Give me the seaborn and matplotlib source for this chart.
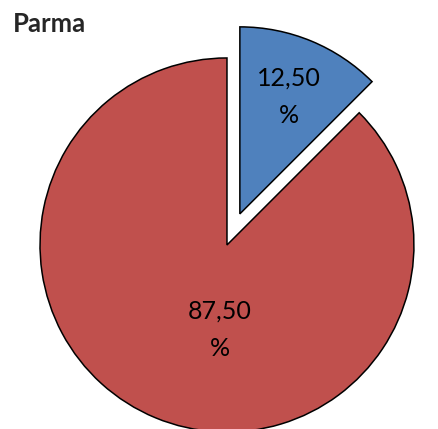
import matplotlib
matplotlib.use("Agg")
import matplotlib.pyplot as plt
import seaborn as sns

# data
categories = ["Sì", "No"]
shares = [12.5, 87.5]
colors = ["#4F81BD", "#C0504D"]
explode = [0.18, 0.0]
title = "Parma"

sns.set_theme(style="white")
plt.rcParams["font.family"] = ["Lato", "DejaVu Sans"]

fig = plt.figure(figsize=(4.39, 4.29), dpi=100)
ax = fig.add_axes([0, 0, 1, 1])

def fmt_pct(p):
    return f"{p:.2f}".replace(".", ",") + "\n%"

wedges, texts, autotexts = ax.pie(
    shares,
    explode=explode,
    colors=colors,
    startangle=90,
    counterclock=False,
    autopct=fmt_pct,
    pctdistance=0.68,
    wedgeprops={"edgecolor": "black", "linewidth": 1.1},
    textprops={"fontsize": 18, "color": "black", "linespacing": 1.75},
)

# Excel puts the big slice's label lower and near the middle
autotexts[1].set_position((-0.04, -0.455))

ax.set_aspect("auto")
ax.set_xlim(-1.214, 1.134)
ax.set_ylim(-0.984, 1.310)
ax.axis("off")

fig.text(0.03, 0.945, title, fontsize=18.5, fontweight="bold", ha="left", va="center")

fig.savefig("out.png", dpi=100)
